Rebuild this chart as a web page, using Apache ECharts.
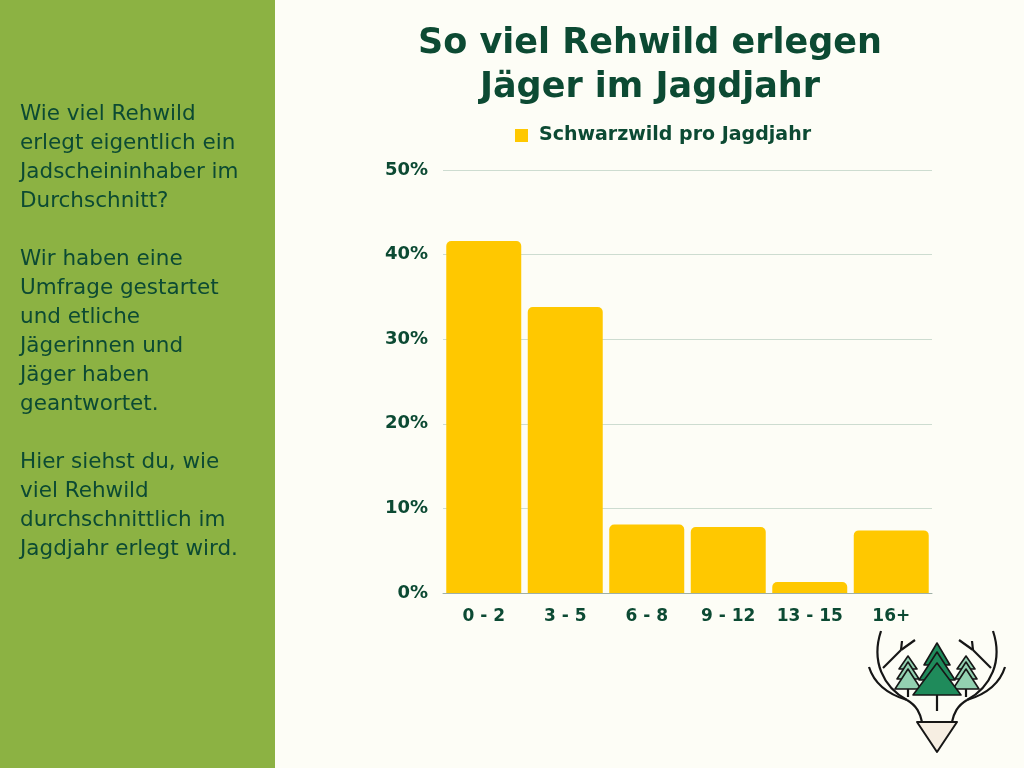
<!DOCTYPE html>
<html><head><meta charset="utf-8">
<script src="https://cdn.jsdelivr.net/npm/echarts@6/dist/echarts.min.js"></script>
<style>html,body{margin:0;padding:0;background:#fdfdf6;}#c{width:1024px;height:768px;}</style>
</head><body><div id="c"></div>
<script>
const categories = ['0 - 2', '3 - 5', '6 - 8', '9 - 12', '13 - 15', '16+'];
const values = [41.6, 33.8, 8.1, 7.8, 1.3, 7.4];
const seriesName = 'Schwarzwild pro Jagdjahr';
const titleText = 'So viel Rehwild erlegen\nJäger im Jagdjahr';
const sideText = 'Wie viel Rehwild\nerlegt eigentlich ein\nJadscheininhaber im\nDurchschnitt?\n\nWir haben eine\nUmfrage gestartet\nund etliche\nJägerinnen und\nJäger haben\ngeantwortet.\n\nHier siehst du, wie\nviel Rehwild\ndurchschnittlich im\nJagdjahr erlegt wird.';

const dark = '#0c4a33';
const font = 'DejaVu Sans';
const ink = '#161616';
function antler(sign) {
  const X = x => sign > 0 ? x : 144 - x;
  const st = {stroke: ink, lineWidth: 2.2, fill: null};
  return [
    {type: 'bezierCurve', shape: {x1: X(16), y1: 6, cpx1: X(6), cpy1: 36, cpx2: X(18), cpy2: 62, x2: X(42), y2: 75}, style: st},
    {type: 'bezierCurve', shape: {x1: X(42), y1: 75, cpx1: X(52), cpy1: 81, cpx2: X(55), cpy2: 88, x2: X(57), y2: 97}, style: st},
    {type: 'bezierCurve', shape: {x1: X(4), y1: 42, cpx1: X(9), cpy1: 58, cpx2: X(22), cpy2: 69, x2: X(42), y2: 75}, style: st},
    {type: 'line', shape: {x1: X(18), y1: 43, x2: X(36), y2: 25}, style: st},
    {type: 'line', shape: {x1: X(36), y1: 25, x2: X(37), y2: 16}, style: st},
    {type: 'line', shape: {x1: X(36), y1: 25, x2: X(50), y2: 15}, style: st}
  ];
}
function tree(cx, tiers, trunkTop, trunkBottom, fill) {
  const out = [{type: 'line', shape: {x1: cx, y1: trunkTop, x2: cx, y2: trunkBottom}, style: {stroke: ink, lineWidth: 2.2}}];
  tiers.forEach(t => out.push({type: 'polygon', shape: {points: [[cx, t[0]], [cx + t[2], t[1]], [cx - t[2], t[1]]]}, style: {fill: fill, stroke: ink, lineWidth: 1.6, lineJoin: 'round'}}));
  return out;
}
const logo = [].concat(
  antler(1), antler(-1),
  tree(43, [[31, 44, 9], [37, 54, 11], [44, 64, 13]], 60, 72, '#93d1b1'),
  tree(101, [[31, 44, 9], [37, 54, 11], [44, 64, 13]], 60, 72, '#93d1b1'),
  tree(72, [[18, 40, 13], [27, 55, 18], [38, 70, 24]], 66, 86, '#1f8b5b'),
  [{type: 'polygon', shape: {points: [[52, 97], [92, 97], [72, 127]]}, style: {fill: '#f6eee2', stroke: ink, lineWidth: 2, lineJoin: 'round'}}]
);

const chart = echarts.init(document.getElementById('c'));
chart.setOption({
  backgroundColor: '#fdfdf6',
  textStyle: {fontFamily: font},
  title: {
    text: titleText, left: 645, top: 17, textAlign: 'center',
    textStyle: {fontFamily: font, fontSize: 35, fontWeight: 700, color: dark, lineHeight: 44}
  },
  legend: {
    data: [seriesName], left: 510, top: 121, itemWidth: 13, itemHeight: 13, itemGap: 8,
    icon: 'rect',
    textStyle: {fontFamily: font, fontSize: 19, fontWeight: 700, color: dark, padding: [0,0,0,6]}
  },
  grid: {left: 443, right: 92, top: 170, bottom: 175},
  xAxis: {
    type: 'category', data: categories,
    axisLine: {lineStyle: {color: '#9fb0a6', width: 1}},
    axisTick: {show: false},
    axisLabel: {interval: 0, fontFamily: font, fontSize: 17, fontWeight: 700, color: dark, margin: 15}
  },
  yAxis: {
    type: 'value', min: 0, max: 50, interval: 10,
    axisLine: {show: false}, axisTick: {show: false},
    splitLine: {lineStyle: {color: '#cddcd0', width: 1}},
    axisLabel: {fontFamily: font, fontSize: 18, fontWeight: 700, color: dark, margin: 15, formatter: '{value}%'}
  },
  series: [{
    name: seriesName, type: 'bar', data: values,
    barCategoryGap: '8%',
    itemStyle: {color: '#ffc800', borderRadius: [5,5,0,0]}
  }],
  graphic: [
    {type: 'rect', shape: {x: 0, y: 0, width: 275, height: 768}, style: {fill: '#8cb243'}, z: -1},
    {type: 'text', x: 20, y: 100, style: {text: sideText, fontFamily: font, fontSize: 21.5, fontWeight: 400, lineHeight: 29, fill: dark}},
    {type: 'group', x: 865, y: 625, children: logo}
  ]
});
</script></body></html>
